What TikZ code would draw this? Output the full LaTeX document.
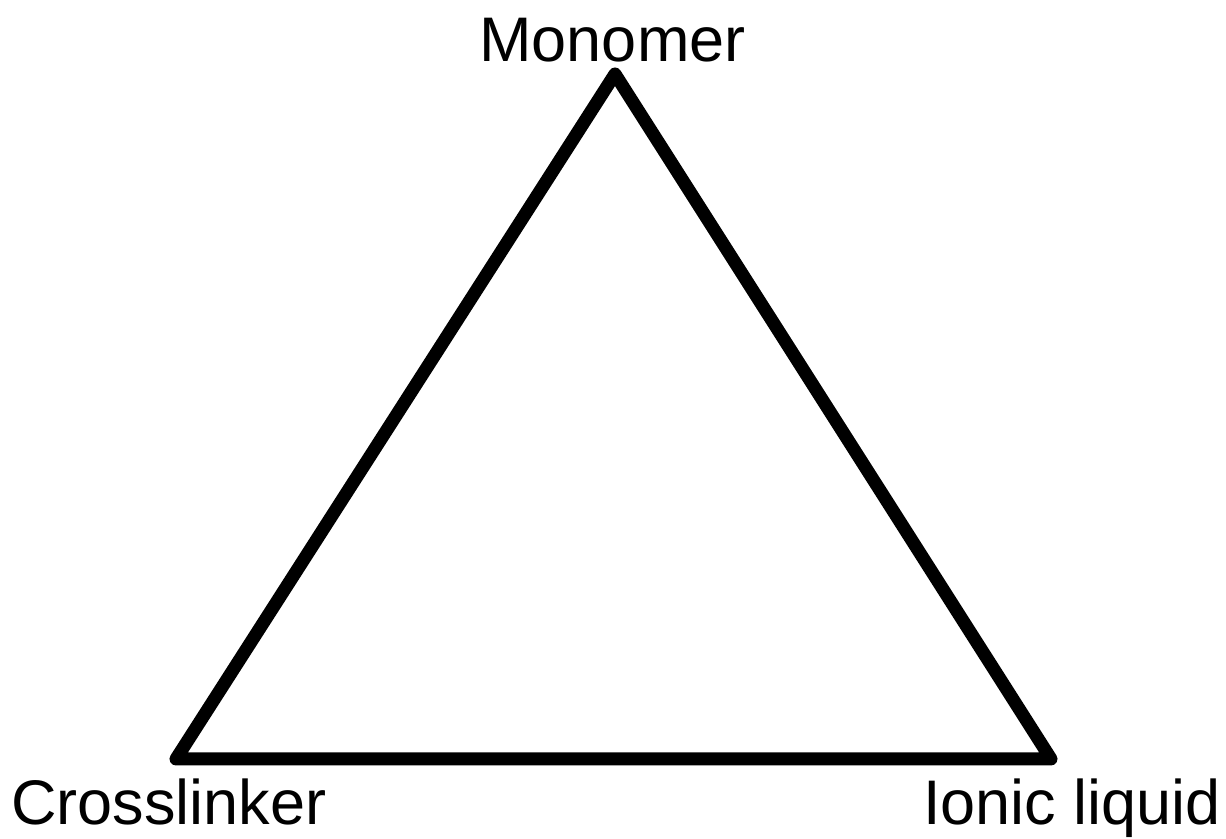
\documentclass[tikz,border=0pt]{standalone}
\usepackage{fontspec}
\setmainfont{Liberation Sans}
\begin{document}
\begin{tikzpicture}[x=1pt,y=1pt,
  edge/.style={line width=13pt,line join=round,line cap=round},
  lbl/.style={anchor=base,inner sep=0pt,font=\fontsize{63}{63}\selectfont}]
\useasboundingbox (0,0) rectangle (1226,838);
\coordinate (m) at (615,764);
\coordinate (c) at (176,79);
\coordinate (i) at (1051,79);
\draw[edge] (m) -- (i) -- (c) -- cycle;
\node[lbl] (tm) at (612.5,776) {Monomer};
\node[lbl] (tc) at (169,13.5) {Crosslinker};
\node[lbl] (ti) at (1072,13.5) {Ionic liquid};
\end{tikzpicture}
\end{document}
